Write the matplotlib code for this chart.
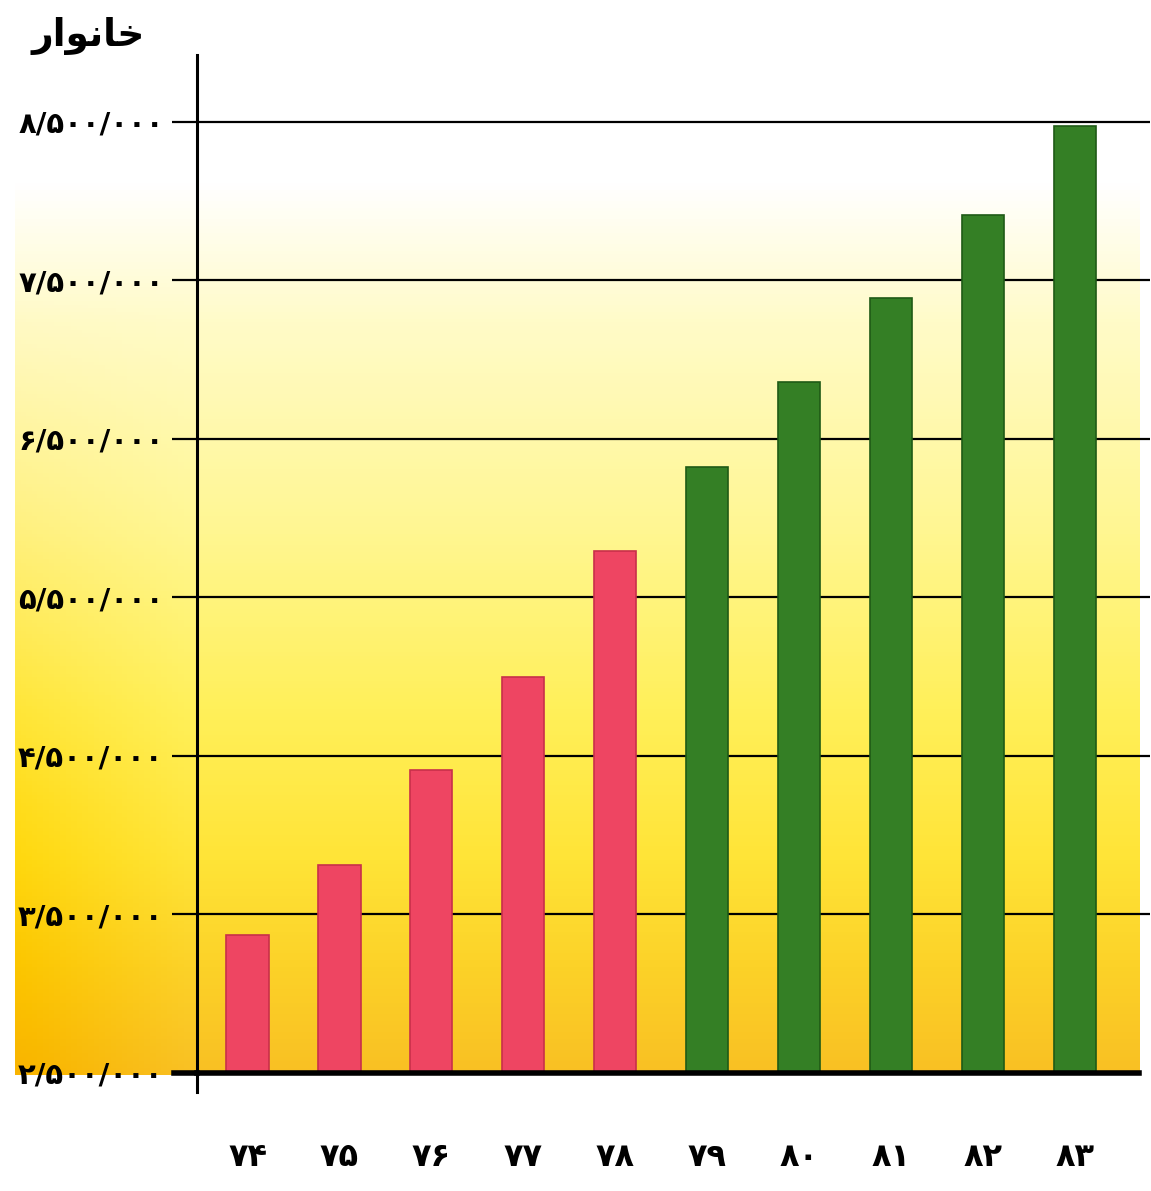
import numpy as np
import matplotlib
matplotlib.use("Agg")
import matplotlib.pyplot as plt
from matplotlib.lines import Line2D

# Data
years = ["۷۴", "۷۵", "۷۶", "۷۷", "۷۸", "۷۹", "۸۰", "۸۱", "۸۲", "۸۳"]
households = [3370000, 3810000, 4410000, 5000000, 5790000,
              6320000, 6860000, 7390000, 7910000, 8470000]
bar_colors = ["#ee4562"] * 5 + ["#347f25"] * 5
edge_colors = ["#c8304a"] * 5 + ["#1f5a16"] * 5
ytick_vals = [2500000, 3500000, 4500000, 5500000, 6500000, 7500000, 8500000]
ytick_labels = ["۲/۵۰۰/۰۰۰", "۳/۵۰۰/۰۰۰", "۴/۵۰۰/۰۰۰", "۵/۵۰۰/۰۰۰",
                "۶/۵۰۰/۰۰۰", "۷/۵۰۰/۰۰۰", "۸/۵۰۰/۰۰۰"]
# خانوار in presentation forms, visual order (matplotlib does no shaping)
title = "\uFEAD\uFE8D\uFEEE\uFEE7\uFE8E\uFEA7"

W, H = 1151, 1191
fig = plt.figure(figsize=(W / 100, H / 100), dpi=100)
fig.patch.set_facecolor("white")

# background gradient: white at top, yellow, orange at the bottom
bg = fig.add_axes([15 / W, 1 - 1075 / H, (1140 - 15) / W, 1075 / H], zorder=0)
ny, nx = 300, 200
t = np.linspace(0, 1, ny)[:, None]          # 0 top -> 1 bottom
xs = np.linspace(0, 1, nx)[None, :]         # 0 left -> 1 right
stops_t = [0.0, 0.17, 0.3, 0.48, 0.66, 0.8, 0.9, 1.0]
stops_r = [255, 255, 255, 255, 255, 255, 252, 249]
stops_g = [255, 255, 251, 247, 240, 228, 210, 192]
stops_b = [255, 255, 200, 150, 90, 55, 40, 35]
r = np.interp(t, stops_t, stops_r) * np.ones_like(xs)
g = np.interp(t, stops_t, stops_g) * np.ones_like(xs)
b = np.interp(t, stops_t, stops_b) * np.ones_like(xs)
# left edge a little more saturated
left = np.clip(1 - xs / 0.15, 0, 1) * np.clip((t - 0.25) / 0.5, 0, 1)
g = g - 12 * left
b = b - 40 * left
img = np.clip(np.dstack([r, g, b]) / 255, 0, 1)
bg.imshow(img, aspect="auto", extent=[0, 1, 0, 1])
bg.axis("off")

ax = fig.add_axes([197 / W, 1 - 1073 / H, (1150 - 197) / W, (1073 - 55) / H], zorder=1)
ax.patch.set_alpha(0)
x = np.arange(len(years))
ax.bar(x, households, width=0.46, bottom=0, color=bar_colors,
       edgecolor=edge_colors, linewidth=1.2, zorder=3)
ax.set_xlim(-0.55, 9.82)
ax.set_ylim(2500000, 8920000)

for v in ytick_vals[1:]:
    ax.axhline(v, color="black", lw=1.6, zorder=2)

ax.set_yticks(ytick_vals)
ax.set_yticklabels(ytick_labels, fontsize=21, fontweight="bold")
ax.tick_params(axis="y", length=18, width=1.6, pad=6, color="black")
ax.set_xticks(x)
ax.set_xticklabels(years, fontsize=23, fontweight="bold")
ax.tick_params(axis="x", length=0, pad=50)

for s in ["top", "right"]:
    ax.spines[s].set_visible(False)
ax.spines["left"].set_linewidth(2.2)
ax.spines["bottom"].set_linewidth(4)
ax.spines["bottom"].set_bounds(-0.55, 9.7)
ax.spines["bottom"].set_zorder(4)

# left axis continues a little below the baseline, baseline a little to the left
fig.add_artist(Line2D([197 / W, 197 / W], [1 - 1073 / H, 1 - 1092 / H],
                      color="black", lw=2.2))
fig.add_artist(Line2D([174 / W, 197 / W], [1 - 1073 / H, 1 - 1073 / H],
                      color="black", lw=4))

fig.text(32 / W, 1 - 46 / H, title, fontsize=27, fontweight="bold",
         ha="left", va="baseline")

fig.savefig("out.png", dpi=100)
